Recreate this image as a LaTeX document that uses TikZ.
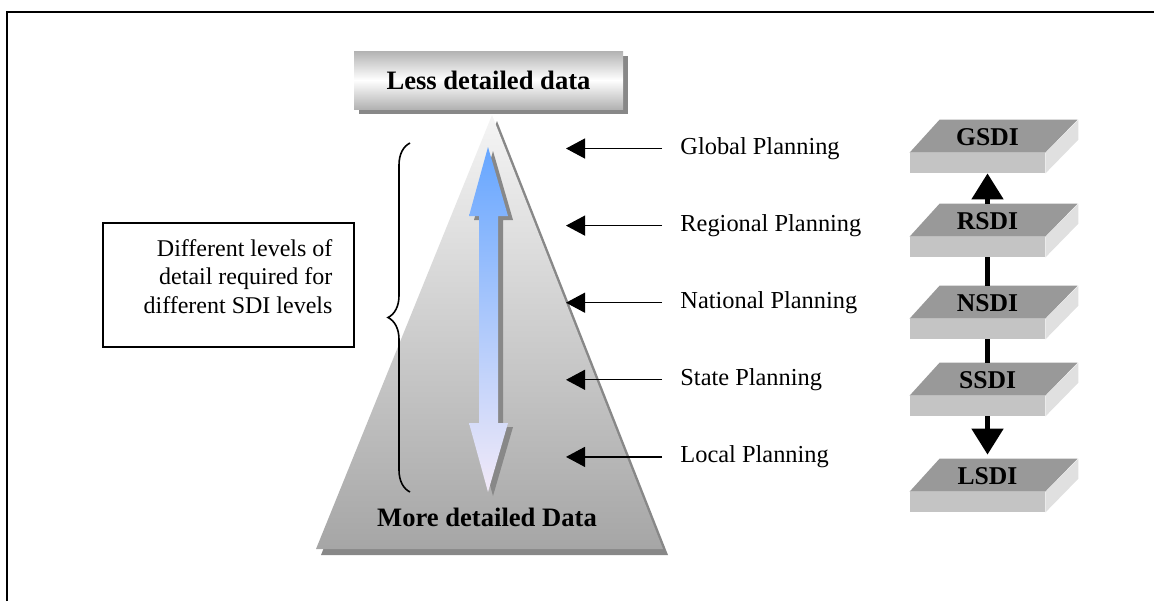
\documentclass[tikz,border=0pt]{standalone}
\usepackage{fontspec}
\setmainfont{Liberation Serif}
\usetikzlibrary{arrows.meta,shadows,positioning,decorations.pathreplacing}

\definecolor{skyblue}{HTML}{66A6FF}
\definecolor{midblue}{HTML}{8EBBF6}
\definecolor{lilac}{HTML}{F2EAF8}
\definecolor{shadowgray}{HTML}{888888}

\tikzstyle{frame}=[line width=0.75pt]
\tikzstyle{topbox}=[rectangle, minimum width=134.5pt, minimum height=29pt,
  top color=gray!60, bottom color=gray!60, middle color=white,
  font=\fontsize{13.3}{16}\selectfont\bfseries,
  drop shadow={fill=shadowgray, opacity=1, shadow xshift=2.5pt, shadow yshift=-2.5pt}]
\tikzstyle{notebox}=[draw, line width=0.7pt, minimum width=125.5pt, minimum height=62pt]
\tikzstyle{notetext}=[align=right, font=\fontsize{12}{14.25}\selectfont, inner sep=0pt]
\tikzstyle{plan}=[anchor=west, inner sep=0pt, font=\fontsize{12.2}{14}\selectfont]
\tikzstyle{planarrow}=[line width=0.6pt, shorten <=9pt, -{Triangle[length=9.5pt,width=10pt]}]
\tikzstyle{slabfront}=[rectangle, fill=gray!46, minimum width=67.5pt, minimum height=10pt, inner sep=0pt]
\tikzstyle{sdilabel}=[font=\fontsize{12.8}{15}\selectfont\bfseries]
\tikzstyle{sdiline}=[line width=2.5pt]
\tikzstyle{sdiarrow}=[sdiline, -{Triangle[length=13pt,width=15.5pt]}]

\begin{document}
\begin{tikzpicture}[x=0.5pt, y=-0.5pt, node distance=38.55pt, on grid]
  \useasboundingbox (0,0) rectangle (1154,601);
  \draw[frame] (7,601) -- (7,12) -- (1154,12);

  % pyramid and the double arrow
  \shade[preaction={fill=shadowgray, transform canvas={xshift=2.5pt, yshift=-3pt}},
    top color=gray!8, bottom color=gray!70] (492,115) -- (316,549) -- (663,549) -- cycle;
  \shade[preaction={fill=shadowgray, transform canvas={xshift=2.5pt, yshift=-2pt}},
    top color=skyblue, middle color=midblue, bottom color=lilac]
    (488,147) -- (508,216) -- (498,216) -- (498,423) -- (508,423) -- (488,492)
    -- (469,423) -- (479,423) -- (479,216) -- (469,216) -- cycle;
  \draw[line width=0.8pt, decorate, decoration={brace, amplitude=11pt}] (410,492) -- (410,143);

  \node[topbox] (less) at (488.5,80) {Less detailed data};
  \node[sdilabel, font=\fontsize{13.3}{16}\selectfont\bfseries] (more) at (487,517) {More detailed Data};

  \node[notebox] (levels) at (228.5,285) {};
  \node[notetext] (levelstext) at (238,276.5) {Different levels of\\detail required for\\different SDI levels};

  % planning levels
  \coordinate (tip) at (566,0);
  \node[plan] (global) at (680,148.5) {Global Planning};
  \node[plan, below=of global.west, anchor=west] (regional) {Regional Planning};
  \node[plan, below=of regional.west, anchor=west] (national) {National Planning};
  \node[plan, below=of national.west, anchor=west] (state) {State Planning};
  \node[plan, below=of state.west, anchor=west] (local) {Local Planning};
  \draw[planarrow] (global.west) -- (global.west -| tip);
  \draw[planarrow] (regional.west) -- (regional.west -| tip);
  \draw[planarrow] (national.west) -- (national.west -| tip);
  \draw[planarrow] (state.west) -- (state.west -| tip);
  \draw[planarrow] (local.west) -- (local.west -| tip);

  % SDI slabs
  \foreach \n/\t/\y in {G/GSDI/153, R/RSDI/237, N/NSDI/319, S/SSDI/396, L/LSDI/492} {
    \node[slabfront] (\n) at (977.5,\y+10) {};
    \fill[gray!80] (\n.north west) -- ++(30,-33) -- ++(138,0) -- (\n.north east) -- cycle;
    \fill[gray!24] (\n.north east) -- ++(33,-33) -- ++(0,20) -- (\n.south east) -- cycle;
    \node[sdilabel] at ([xshift=5pt, yshift=7.5pt]\n.north) {\t};
  }
  \draw[sdiarrow] ([xshift=5pt, yshift=16.5pt]R.north) -- ([xshift=5pt]G.south);
  \draw[sdiline] ([xshift=5pt]R.south) -- ([xshift=5pt, yshift=16.5pt]N.north);
  \draw[sdiline] ([xshift=5pt]N.south) -- ([xshift=5pt, yshift=16.5pt]S.north);
  \draw[sdiarrow] ([xshift=5pt]S.south) -- ([xshift=5pt, yshift=18.5pt]L.north);
\end{tikzpicture}
\end{document}
